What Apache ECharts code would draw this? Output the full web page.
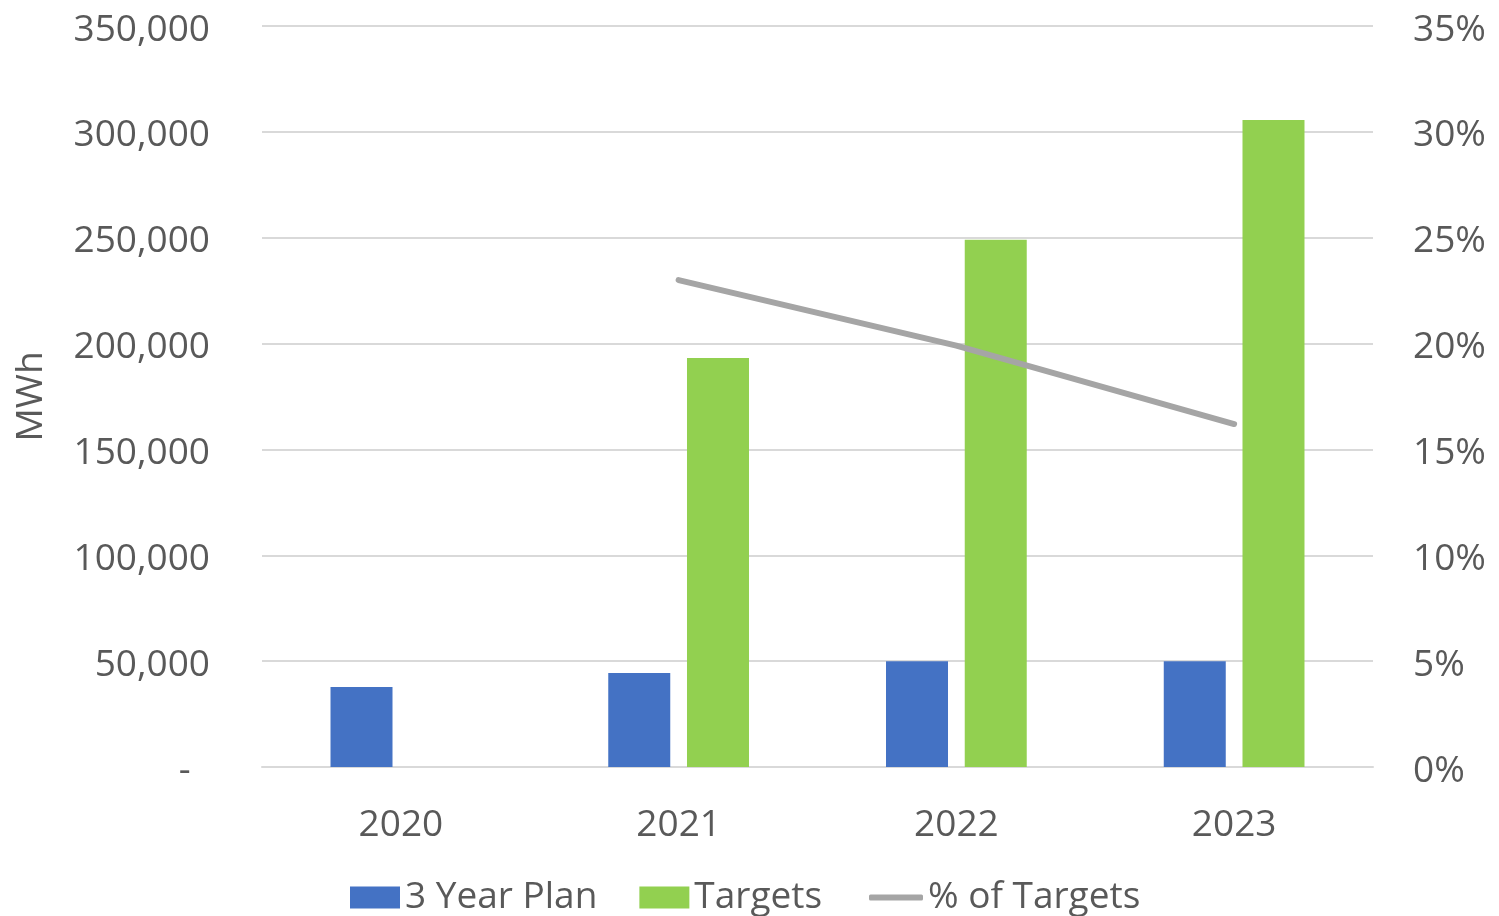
<!DOCTYPE html>
<html>
<head>
<meta charset="utf-8">
<script src="https://cdn.jsdelivr.net/npm/echarts@6/dist/echarts.min.js"></script>
<style>
  html, body { margin: 0; padding: 0; background: #fff; }
  #chart { width: 1499px; height: 916px; }
</style>
</head>
<body>
<div id="chart"></div>
<script>
// data
const years = ['2020', '2021', '2022', '2023']
const planMWh = [37800, 44400, 50000, 50000]
const targetMWh = [null, 193200, 249000, 305600]
const pctOfTargets = [null, 23.0, 19.9, 16.2]

const textColor = '#595959'
const fontFamily = 'Open Sans'
const fontSize = 37

// nudge tick labels down a few px so they sit on the grid lines like the original
const tickRich = { t: { fontSize: fontSize, color: textColor, fontFamily: fontFamily, padding: [8, 0, 0, 0] } }

const chart = echarts.init(document.getElementById('chart'))

const option = {
  animation: false,
  textStyle: { fontFamily: fontFamily, color: textColor },
  grid: { left: 262, right: 126, top: 26, bottom: 149 },
  legend: [
    {
      top: 874,
      left: 345,
      itemGap: 42,
      itemWidth: 50,
      itemHeight: 22,
      icon: 'rect',
      textStyle: { fontSize: fontSize, color: textColor, fontFamily: fontFamily },
      data: ['3 Year Plan', 'Targets']
    },
    {
      top: 874,
      left: 864,
      itemWidth: 54,
      itemHeight: 6,
      icon: 'roundRect',
      textStyle: { fontSize: fontSize, color: textColor, fontFamily: fontFamily },
      data: ['% of Targets']
    }
  ],
  xAxis: {
    type: 'category',
    data: years,
    axisLine: { lineStyle: { color: '#D9D9D9', width: 2 } },
    axisTick: { show: false },
    axisLabel: { fontSize: fontSize, color: textColor, margin: 40 }
  },
  yAxis: [
    {
      type: 'value',
      min: 0,
      max: 350000,
      interval: 50000,
      name: 'MWh',
      nameLocation: 'middle',
      nameGap: 212,
      nameRotate: 90,
      nameTextStyle: { fontSize: fontSize, color: textColor },
      axisLine: { show: false },
      axisTick: { show: false },
      splitLine: { lineStyle: { color: '#D9D9D9', width: 2 } },
      axisLabel: {
        margin: 52,
        rich: tickRich,
        formatter: v => '{t|' + (v === 0 ? '-  ' : v.toLocaleString('en-US')) + '}'
      }
    },
    {
      type: 'value',
      min: 0,
      max: 35,
      interval: 5,
      position: 'right',
      axisLine: { show: false },
      axisTick: { show: false },
      splitLine: { show: false },
      axisLabel: {
        margin: 40,
        rich: tickRich,
        formatter: v => '{t|' + v + '%}'
      }
    }
  ],
  series: [
    {
      name: '3 Year Plan',
      type: 'bar',
      data: planMWh,
      barWidth: 62,
      barGap: '27%',
      itemStyle: { color: '#4472C4' }
    },
    {
      name: 'Targets',
      type: 'bar',
      data: targetMWh,
      barWidth: 62,
      itemStyle: { color: '#92D050' }
    },
    {
      name: '% of Targets',
      type: 'line',
      yAxisIndex: 1,
      data: pctOfTargets,
      symbol: 'none',
      lineStyle: { color: '#A5A5A5', width: 6, cap: 'round' },
      itemStyle: { color: '#A5A5A5' }
    }
  ]
}

chart.setOption(option)
window.addEventListener('resize', () => chart.resize())
</script>
</body>
</html>
